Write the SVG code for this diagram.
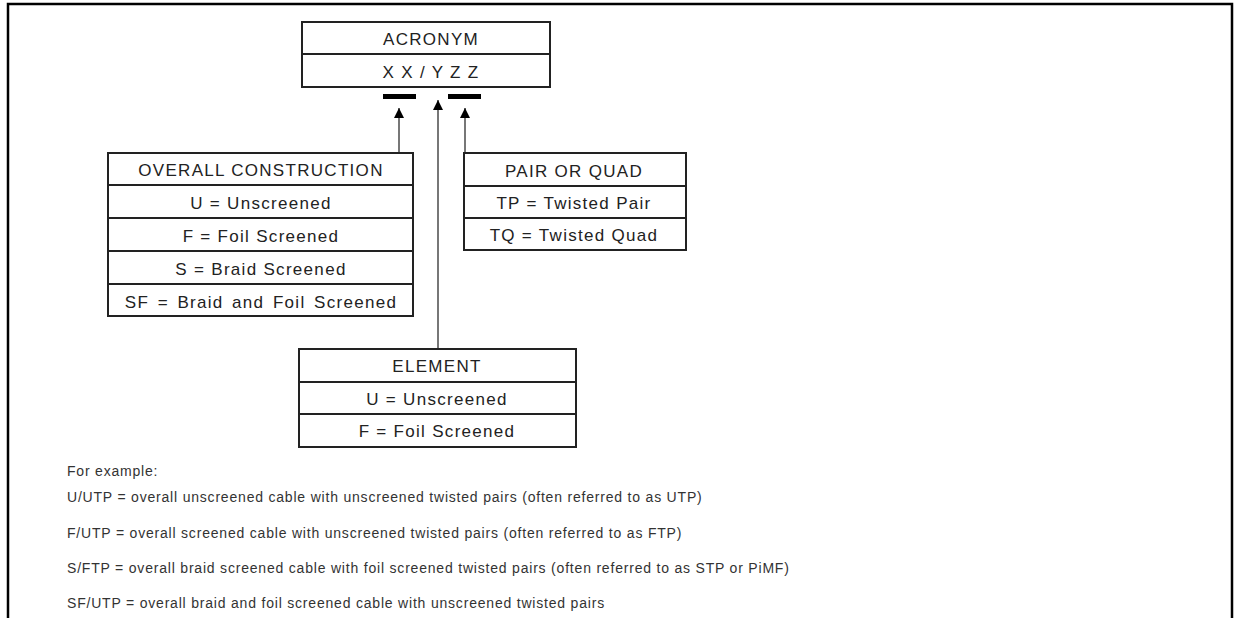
<svg xmlns="http://www.w3.org/2000/svg" width="1234" height="618" viewBox="0 0 1234 618">
<defs>
<style>
.frame{fill:none;stroke:#000;stroke-width:2.5}
.box{fill:#fff;stroke:#222;stroke-width:2}
.div{stroke:#222;stroke-width:2}
.t{font-family:"Liberation Sans",Arial,sans-serif;font-size:17px;fill:#222;text-anchor:middle;letter-spacing:1.3px}
.n{font-family:"Liberation Sans",Arial,sans-serif;font-size:14px;fill:#333;letter-spacing:0.8px}
.conn{stroke:#555;stroke-width:1.6;fill:none}
</style>
<marker id="ah" viewBox="0 0 10 10" refX="10" refY="5" markerWidth="10" markerHeight="10" markerUnits="userSpaceOnUse" orient="auto">
<path d="M0,0 L10,5 L0,10 z" fill="#000"/>
</marker>
</defs>
<rect width="1234" height="618" fill="#fff"/>
<path class="frame" d="M8,618 V4 H1232 V618"/>

<g id="acronym">
<rect class="box" x="302" y="22" width="248" height="65"/>
<line class="div" x1="302" y1="54" x2="550" y2="54"/>
<text class="t" x="431" y="45">ACRONYM</text>
<text class="t" x="431" y="78">X X / Y Z Z</text>
<rect x="383" y="94" width="33" height="5" fill="#000"/>
<rect x="448" y="94" width="33" height="5" fill="#000"/>
</g>

<g id="overall">
<rect class="box" x="108" y="153" width="305" height="163"/>
<line class="div" x1="108" y1="185" x2="413" y2="185"/>
<line class="div" x1="108" y1="218" x2="413" y2="218"/>
<line class="div" x1="108" y1="251" x2="413" y2="251"/>
<line class="div" x1="108" y1="284" x2="413" y2="284"/>
<text class="t" x="261" y="176">OVERALL CONSTRUCTION</text>
<text class="t" x="261" y="209">U = Unscreened</text>
<text class="t" x="261" y="242">F = Foil Screened</text>
<text class="t" x="261" y="275">S = Braid Screened</text>
<text class="t" x="261" y="308" style="word-spacing:2.5px">SF = Braid and Foil Screened</text>
</g>

<g id="pair">
<rect class="box" x="464" y="153" width="222" height="97"/>
<line class="div" x1="464" y1="186" x2="686" y2="186"/>
<line class="div" x1="464" y1="218" x2="686" y2="218"/>
<text class="t" x="574" y="177">PAIR OR QUAD</text>
<text class="t" x="574" y="209">TP = Twisted Pair</text>
<text class="t" x="574" y="241">TQ = Twisted Quad</text>
</g>

<g id="element">
<rect class="box" x="299" y="349" width="277" height="98"/>
<line class="div" x1="299" y1="382" x2="576" y2="382"/>
<line class="div" x1="299" y1="414" x2="576" y2="414"/>
<text class="t" x="437" y="372">ELEMENT</text>
<text class="t" x="437" y="405">U = Unscreened</text>
<text class="t" x="437" y="437">F = Foil Screened</text>
</g>

<g id="connectors">
<line class="conn" x1="399" y1="152" x2="399" y2="108" marker-end="url(#ah)"/>
<line class="conn" x1="438" y1="348" x2="438" y2="100" marker-end="url(#ah)"/>
<line class="conn" x1="465" y1="152" x2="465" y2="108" marker-end="url(#ah)"/>
</g>

<g id="notes">
<text class="n" x="67" y="476">For example:</text>
<text class="n" x="67" y="502">U/UTP = overall unscreened cable with unscreened twisted pairs (often referred to as UTP)</text>
<text class="n" x="67" y="538">F/UTP = overall screened cable with unscreened twisted pairs (often referred to as FTP)</text>
<text class="n" x="67" y="573">S/FTP = overall braid screened cable with foil screened twisted pairs (often referred to as STP or PiMF)</text>
<text class="n" x="67" y="608">SF/UTP = overall braid and foil screened cable with unscreened twisted pairs</text>
</g>
</svg>
